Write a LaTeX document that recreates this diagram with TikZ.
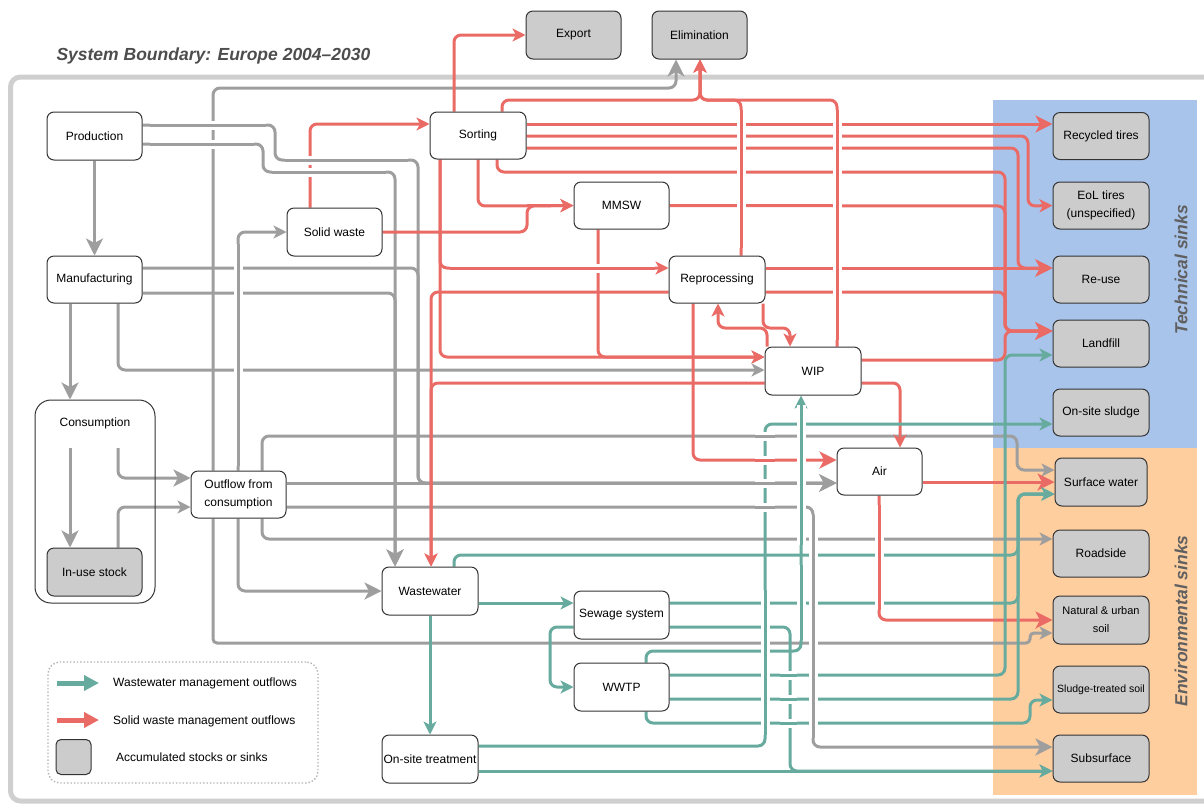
\documentclass[tikz,border=0pt]{standalone}
\usepackage{fontspec}
\setmainfont{Liberation Sans}
\usetikzlibrary{arrows.meta}
\definecolor{gline}{HTML}{9E9E9E}
\definecolor{rline}{HTML}{EA6B66}
\definecolor{nline}{HTML}{67AB9F}
\definecolor{sinkfill}{HTML}{CCCCCC}
\definecolor{boxdraw}{HTML}{333333}
\definecolor{techblue}{HTML}{A9C4EB}
\definecolor{envorange}{HTML}{FFCE9F}
\definecolor{bound}{HTML}{CFCFCF}
\definecolor{labgray}{HTML}{4D4D4D}
\definecolor{sinklab}{HTML}{606060}
\newcommand{\myfs}[1]{\fontsize{#1}{18}\selectfont}
% line jump (gap): white halo under a straight piece of a line, then the piece again
\newcommand{\jump}[3]{\draw[white, line width=9pt] #2 -- #3; \draw[#1, line width=3pt] #2 -- #3;}
\pgfdeclarelayer{back}
\pgfdeclarelayer{lines}
\pgfsetlayers{back,lines,main}
\begin{document}
\begin{tikzpicture}[x=1pt,y=-1pt,
  conn/.style={line width=3pt, rounded corners=7pt},
  gl/.style={conn, draw=gline},
  rd/.style={conn, draw=rline},
  gn/.style={conn, draw=nline},
  ts/.style={-{Stealth[length=13pt,width=13pt,inset=3.5pt]}},
  tb/.style={-{Stealth[length=17pt,width=17pt,inset=4.5pt]}},
  bx/.style={draw=boxdraw, line width=1pt, rounded corners=7pt, fill=white,
    minimum width=95pt, minimum height=48pt, inner sep=1pt, align=center, font=\myfs{12}},
  sk/.style={bx, fill=sinkfill},
  snk/.style={sk, minimum width=96pt, minimum height=47pt}
]
\useasboundingbox (0,0) rectangle (1204,804);

\begin{pgfonlayer}{back}
  \draw[bound, line width=5pt, rounded corners=10pt] (10.5,77) rectangle (1225,801);
  \fill[techblue] (993,100) rectangle (1197,448);
  \fill[envorange] (993,448) rectangle (1197,795);
\end{pgfonlayer}

% title and region labels
\node[anchor=west, text=labgray, font=\fontsize{17.5}{20}\selectfont\bfseries\itshape] (title) at (53,56) {System Boundary: Europe 2004–2030};
\node[rotate=90, text=sinklab, font=\fontsize{17.5}{20}\selectfont\bfseries\itshape] (techlab) at (1181,270) {Technical sinks};
\node[rotate=90, text=sinklab, font=\fontsize{17.5}{20}\selectfont\bfseries\itshape] (envlab) at (1181,621) {Environmental sinks};

% process nodes
\node[bx] (prod) at (94.5,136) {Production};
\node[bx, minimum height=47pt] (man) at (94.5,279.5) {Manufacturing};
\node[draw=boxdraw, line width=1pt, rounded corners=16pt, minimum width=120pt, minimum height=203pt] (cons) at (95,501.5) {};
\node[font=\myfs{12}] (constext) at (95,423) {Consumption};
\node[sk] (inuse) at (94.5,572) {In-use stock};
\node[bx, minimum height=47pt] (outf) at (238.5,494.5) {Outflow from\\consumption};
\node[bx] (solid) at (334.5,232) {Solid waste};
\node[bx, minimum width=96pt, minimum height=47pt] (sort) at (478,135.5) {Sorting};
\node[bx, minimum height=47pt] (mmsw) at (621.5,205.5) {MMSW};
\node[bx, minimum width=96pt, minimum height=47pt] (rep) at (717,279.5) {Reprocessing};
\node[bx, minimum width=96pt] (wip) at (813,371) {WIP};
\node[bx, minimum width=85pt, minimum height=47pt] (air) at (879.5,471.5) {Air};
\node[bx, minimum width=96pt] (ww) at (430,591) {Wastewater};
\node[bx] (sew) at (621.5,615) {Sewage system};
\node[bx] (wwtp) at (621.5,687) {WWTP};
\node[bx, minimum width=96pt] (ost) at (430,759) {On-site treatment};
\node[sk] (export) at (573.5,35) {Export};
\node[sk] (elim) at (699.5,35) {Elimination};

% sinks
\node[snk] (rt) at (1101,136) {Recycled tires};
\node[snk] (eol) at (1101,205.5) {EoL tires\\(unspecified)};
\node[snk] (reuse) at (1101,279.5) {Re-use};
\node[snk] (landf) at (1101,343.5) {Landfill};
\node[snk] (oss) at (1101,412.5) {On-site sludge};
\node[snk, minimum width=92pt, minimum height=48pt] (sw) at (1101,482) {Surface water};
\node[snk] (road) at (1101,553.5) {Roadside};
\node[snk, minimum height=48pt, font=\myfs{11}] (nus) at (1101,620) {Natural \& urban\\soil};
\node[snk, font=\fontsize{10.5}{18}\selectfont] (sts) at (1101,689.5) {Sludge-treated soil};
\node[snk] (subs) at (1101,758.5) {Subsurface};

% legend
\node[draw=gray!60, dotted, line width=1.4pt, rounded corners=12pt, minimum width=270pt, minimum height=121pt] (legend) at (183,722.5) {};
\coordinate (lg1a) at (57,683);
\coordinate (lg1b) at (99,683);
\coordinate (lg2a) at (57,720);
\coordinate (lg2b) at (99,720);
\draw[nline, line width=5pt, -{Triangle[length=15pt,width=15pt]}] (lg1a) -- (lg1b);
\draw[rline, line width=5pt, -{Triangle[length=15pt,width=15pt]}] (lg2a) -- (lg2b);
\node[sk, minimum width=35pt, minimum height=35pt, rounded corners=5pt] (legbox) at (73.5,757) {};
\node[anchor=west, font=\myfs{12}, inner sep=0pt] (legt1) at (113,683) {Wastewater management outflows};
\node[anchor=west, font=\myfs{12}, inner sep=0pt] (legt2) at (113,721) {Solid waste management outflows};
\node[anchor=west, font=\myfs{12}, inner sep=0pt] (legt3) at (116,757) {Accumulated stocks or sinks};

\coordinate (cin1) at (70,448);
\coordinate (cin2) at (118,448);

\begin{pgfonlayer}{lines}
% ---------- gray flows
\draw[gl,tb] (prod.south) -- (man.north);
\draw[gl,tb] (man.south -| 70,0) -- (cons.north -| 70,0);
\draw[gl,tb] (cin1) -- (inuse.north -| 70,0);
\draw[gl,tb] (cin2) -- (118,478) -- (outf.west |- 0,478);
\draw[gl,ts] (inuse.north -| 118,0) -- (118,507) -- (outf.west |- 0,507);
\draw[gl,tb] (prod.east |- 0,125) -- (275,125) -- (275,160) -- (418,160) -- (418,483) -- (air.west |- 0,483);
\draw[gl,tb] (prod.east |- 0,144) -- (263,144) -- (263,172) -- (395,172) -- (ww.north -| 395,0);
\draw[gl,tb] (man.east |- 0,268) -- (418,268) -- (418,483) -- (air.west |- 0,483);
\draw[gl,tb] (man.east |- 0,293) -- (395,293) -- (ww.north -| 395,0);
\draw[gl,ts] (man.south -| 118,0) -- (118,370) -- (wip.west |- 0,370);
\draw[gl,tb] (outf.east |- 0,483) -- (air.west |- 0,483);
\draw[gl,tb] (outf.east |- 0,507) -- (813,507) -- (813,747) -- (subs.west |- 0,747);
\draw[gl,ts] (outf.north -| 262,0) -- (262,436) -- (1017,436) -- (1017,470) -- (sw.west |- 0,470);
\draw[gl,ts] (outf.south -| 262,0) -- (262,539) -- (road.west |- 0,539);
\draw[gl,tb] (outf.north -| 213,0) -- (213,88) -- (676,88) -- (elim.south -| 676,0);
\draw[gl,ts,rounded corners=4pt] (outf.south -| 213,0) -- (213,643) -- (1030,643) -- (1030,633) -- (nus.west |- 0,633);
\draw[gl,ts] (outf.north -| 238,0) -- (238,232) -- (solid.west);
\draw[gl,tb] (outf.south -| 238,0) -- (238,591) -- (ww.west);

% ---------- red flows
\draw[rd,ts] (solid.north -| 310,0) -- (310,124) -- (sort.west |- 0,124);
\draw[rd,ts] (solid.east) -- (527,232) -- (527,206) -- (mmsw.west);
\draw[rd,ts] (sort.south -| 478,0) -- (478,206) -- (mmsw.west);
\draw[rd,ts] (sort.north -| 454,0) -- (454,35) -- (export.west);
\draw[rd,ts] (sort.north -| 502,0) -- (502,100) -- (700,100) -- (elim.south -| 700,0);
\draw[rd,ts] (wip.north -| 837,0) -- (837,100) -- (700,100) -- (elim.south -| 700,0);
\draw[rd,ts] (rep.north -| 741,0) -- (741,100) -- (700,100) -- (elim.south -| 700,0);
\draw[rd,tb] (sort.east |- 0,124) -- (rt.west |- 0,124);
\draw[rd,ts] (sort.east |- 0,136) -- (1028,136) -- (1028,206) -- (eol.west);
\draw[rd,tb] (sort.east |- 0,148) -- (1018,148) -- (1018,268) -- (reuse.west |- 0,268);
\draw[rd,tb] (sort.south -| 497,0) -- (497,172) -- (1005,172) -- (1005,331) -- (landf.west |- 0,331);
\draw[rd,tb] (mmsw.east) -- (1005,206) -- (1005,331) -- (landf.west |- 0,331);
\draw[rd,ts] (sort.south -| 440,0) -- (440,268) -- (rep.west |- 0,268);
\draw[rd,ts] (sort.south -| 440,0) -- (440,357) -- (wip.west |- 0,357);
\draw[rd,ts] (mmsw.south -| 598,0) -- (598,357) -- (wip.west |- 0,357);
\draw[rd,tb] (rep.east |- 0,268) -- (reuse.west |- 0,268);
\draw[rd,tb] (rep.east |- 0,292) -- (1005,292) -- (1005,331) -- (landf.west |- 0,331);
\draw[rd,ts] (rep.west |- 0,292) -- (431,292) -- (ww.north -| 431,0);
\draw[rd,ts] (wip.west |- 0,383) -- (431,383) -- (ww.north -| 431,0);
\draw[rd,tb] (rep.south -| 693,0) -- (693,460) -- (air.west |- 0,460);
\draw[rd,ts] (wip.north -| 767,0) -- (767,328) -- (718,328) -- (rep.south -| 718,0);
\draw[rd,ts] (rep.south -| 763,0) -- (763,328) -- (790,328) -- (wip.north -| 790,0);
\draw[rd,tb] (wip.east |- 0,360) -- (1005,360) -- (1005,331) -- (landf.west |- 0,331);
\draw[rd,ts] (wip.east |- 0,383) -- (900,383) -- (air.north -| 900,0);
\draw[rd,tb] (air.east |- 0,482) -- (sw.west |- 0,482);
\draw[rd,tb] (air.south -| 879,0) -- (879,620) -- (nus.west |- 0,620);

% ---------- green flows
\draw[gn,ts] (ww.east |- 0,603) -- (sew.west |- 0,603);
\draw[gn,ts] (ww.south) -- (ost.north);
\draw[gn,ts] (ww.north -| 454,0) -- (454,555) -- (1018,555) -- (1018,494) -- (sw.west |- 0,494);
\draw[gn,ts] (sew.east |- 0,603) -- (1018,603) -- (1018,494) -- (sw.west |- 0,494);
\draw[gn,ts] (sew.east |- 0,627) -- (790,627) -- (790,771) -- (subs.west |- 0,771);
\draw[gn,ts] (sew.west |- 0,627) -- (550,627) -- (550,687) -- (wwtp.west);
\draw[gn,ts] (wwtp.north -| 646,0) -- (646,651) -- (801,651) -- (wip.south -| 801,0);
\draw[gn,ts] (wwtp.east |- 0,675) -- (1005,675) -- (1005,355) -- (landf.west |- 0,355);
\draw[gn,ts] (wwtp.east |- 0,699) -- (1018,699) -- (1018,494) -- (sw.west |- 0,494);
\draw[gn,ts] (wwtp.south -| 646,0) -- (646,723) -- (1030,723) -- (1030,700) -- (sts.west |- 0,700);
\draw[gn,ts] (ost.east |- 0,746) -- (765,746) -- (765,424) -- (oss.west |- 0,424);
\draw[gn,ts] (ost.east |- 0,771) -- (subs.west |- 0,771);

% ---------- line jumps (gaps where lines cross)
\jump{gline}{(150,125)}{(266,125)}
\jump{gline}{(150,144)}{(254,144)}
\jump{gline}{(285,160)}{(408,160)}
\jump{gline}{(272,172)}{(386,172)}
\jump{rline}{(450,268)}{(655,268)}
\jump{rline}{(741,110)}{(741,248)}
\jump{rline}{(837,110)}{(837,340)}
\jump{gline}{(238,244)}{(238,466)}
\jump{gline}{(755,436)}{(775,436)}
\jump{rline}{(755,460)}{(775,460)}
\jump{gline}{(755,483)}{(775,483)}
\jump{gline}{(755,507)}{(775,507)}
\jump{nline}{(765,590)}{(765,735)}
\jump{nline}{(801,405)}{(801,545)}
\jump{nline}{(801,565)}{(801,640)}
\jump{gline}{(813,515)}{(813,738)}
\jump{rline}{(879,505)}{(879,610)}
\jump{nline}{(780,675)}{(797,675)}
\jump{nline}{(780,699)}{(797,699)}
\jump{nline}{(780,723)}{(797,723)}
\end{pgfonlayer}
\end{tikzpicture}
\end{document}
